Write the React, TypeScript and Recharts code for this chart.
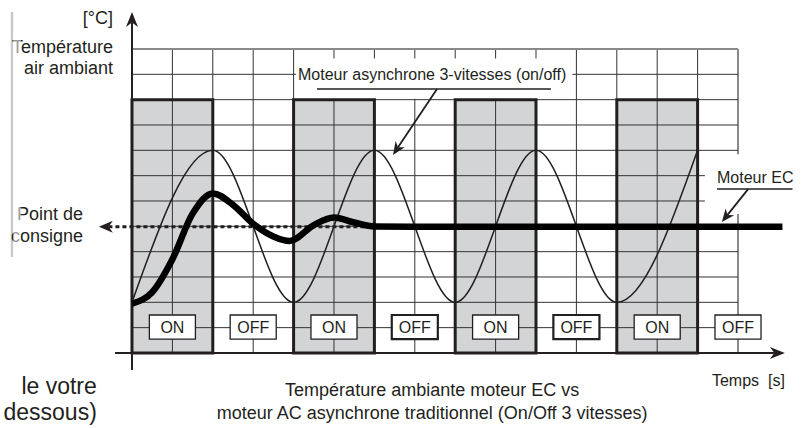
import {
  ComposedChart,
  Line,
  ReferenceArea,
  ReferenceDot,
  ReferenceLine,
  XAxis,
  YAxis,
} from "recharts";

// The grid is 15 time columns x 12 temperature rows.
// Domains run past the grid so the axis labels and captions fit on the same scales.
const X_DOMAIN = [-3.267, 16.584];
const Y_DOMAIN = [-2.961, 13.934];

const gridCols = [0, 1, 2, 3, 4, 5, 6, 7, 8, 9, 10, 11, 12, 13, 14, 15];
const gridRows = [0, 1, 2, 3, 4, 5, 6, 7, 8, 9, 10, 11, 12];

// periods where the 3-speed motor is on
const onStart = [0, 4, 8, 12];
const onEnd = [2, 6, 10, 14];
const onTop = 10;

const switchCenters = [1, 3, 5, 7, 9, 11, 13, 15];
const switchLabels = ["ON", "OFF", "ON", "OFF", "ON", "OFF", "ON", "OFF"];
const switchBold = [false, false, false, true, false, true, false, false];

// on/off motor: swings between the peaks and troughs
const onOffTime = [0, 2, 4, 6, 8, 10, 12, 14];
const onOffTemp = [2, 8, 2, 8, 2, 8, 2, 8];

// EC motor: one overshoot, then holds the setpoint
const ecTime = [0, 0.5, 1, 1.5, 2, 2.5, 3, 3.5, 3.9, 4.5, 5, 5.5, 6, 7, 16.1];
const ecTemp = [1.95, 2.4, 3.7, 5.5, 6.3, 5.85, 5.1, 4.6, 4.42, 5.05, 5.35, 5.15, 4.99, 4.98, 4.98];

const setpoint = 4.98;

const INK = "#231f20";
const FONT = '"Liberation Sans", Arial, Helvetica, sans-serif';

const onOffData = onOffTime.map((x, i) => ({ x, y: onOffTemp[i] }));
const ecData = ecTime.map((x, i) => ({ x, y: ecTemp[i] }));

const arrowShape =
  (width: number, head: number, half: number, dash?: string) => (p: any) => {
    const { x1, y1, x2, y2 } = p;
    const a = Math.atan2(y2 - y1, x2 - x1);
    const c = Math.cos(a);
    const s = Math.sin(a);
    const bx = x2 - c * head;
    const by = y2 - s * head;
    const nx = x2 - c * head * 0.7;
    const ny = y2 - s * head * 0.7;
    return (
      <g>
        <line x1={x1} y1={y1} x2={nx} y2={ny} stroke={INK} strokeWidth={width} strokeDasharray={dash} />
        <polygon
          points={`${x2},${y2} ${bx - s * half},${by + c * half} ${nx},${ny} ${bx + s * half},${by - c * half}`}
          fill={INK}
        />
      </g>
    );
  };

const textAt = (
  key: string,
  x: number,
  y: number,
  text: string,
  anchor: "start" | "middle" | "end",
  size: number
) => (
  <ReferenceDot
    key={key}
    x={x}
    y={y}
    r={0}
    ifOverflow="visible"
    zIndex={60}
    shape={(p: any) => (
      <text
        x={p.cx}
        y={p.cy}
        textAnchor={anchor}
        dominantBaseline="central"
        fontSize={size}
        fontFamily={FONT}
        fill={INK}
      >
        {text}
      </text>
    )}
  />
);

export default function App() {
  return (
    <div style={{ position: "absolute", left: 0, top: 0, width: 802, height: 428, background: "#fff", overflow: "hidden" }}>
      <ComposedChart width={802} height={428} margin={{ top: 0, right: 0, bottom: 0, left: 0 }}>
        <XAxis type="number" dataKey="x" domain={X_DOMAIN} allowDataOverflow hide />
        <YAxis type="number" dataKey="y" domain={Y_DOMAIN} allowDataOverflow hide />

        {onStart.map((x, i) => (
          <ReferenceArea
            key={`fill-${i}`}
            x1={x}
            x2={onEnd[i]}
            y1={0}
            y2={onTop}
            fill="#d3d4d6"
            fillOpacity={1}
            stroke="none"
            zIndex={1}
          />
        ))}

        {gridCols.map((c) => (
          <ReferenceLine
            key={`gc-${c}`}
            segment={[
              { x: c, y: 0 },
              { x: c, y: 12 },
            ]}
            stroke={c === 15 ? "#8a8a8a" : "#333"}
            strokeWidth={c === 15 ? 2 : 1}
            ifOverflow="visible"
            zIndex={2}
          />
        ))}
        {gridRows.map((r) => (
          <ReferenceLine
            key={`gr-${r}`}
            segment={[
              { x: 0, y: r },
              { x: 15, y: r },
            ]}
            stroke={r === 12 ? "#8a8a8a" : "#333"}
            strokeWidth={r === 12 ? 2 : 1}
            ifOverflow="visible"
            zIndex={2}
          />
        ))}

        <ReferenceArea x1={4.06} x2={10.9} y1={10.04} y2={11.62} fill="#fff" fillOpacity={1} stroke="none" zIndex={3} />
        <ReferenceArea x1={14.18} x2={16.58} y1={5.49} y2={7.85} fill="#fff" fillOpacity={1} stroke="none" zIndex={3} />

        {onStart.map((x, i) => (
          <ReferenceArea
            key={`edge-${i}`}
            x1={x}
            x2={onEnd[i]}
            y1={0}
            y2={onTop}
            fill="none"
            stroke={INK}
            strokeWidth={3}
            zIndex={4}
          />
        ))}

        {/* axes */}
        <ReferenceLine
          segment={[
            { x: 0, y: -0.67 },
            { x: 0, y: 13.46 },
          ]}
          ifOverflow="visible"
          zIndex={5}
          shape={arrowShape(2, 15, 6)}
        />
        <ReferenceLine
          segment={[
            { x: -0.42, y: 0 },
            { x: 16.16, y: 0 },
          ]}
          ifOverflow="visible"
          zIndex={5}
          shape={arrowShape(2, 15, 6)}
        />

        <Line
          data={onOffData}
          dataKey="y"
          type="monotone"
          stroke={INK}
          strokeWidth={1.5}
          dot={false}
          activeDot={false}
          isAnimationActive={false}
          zIndex={6}
        />

        <ReferenceLine
          segment={[
            { x: 6.1, y: setpoint },
            { x: -0.82, y: setpoint },
          ]}
          ifOverflow="visible"
          zIndex={7}
          shape={arrowShape(3, 14, 6, "4 3")}
        />

        <Line
          data={ecData}
          dataKey="y"
          type="monotone"
          stroke="#000"
          strokeWidth={6.5}
          dot={false}
          activeDot={false}
          isAnimationActive={false}
          zIndex={8}
        />

        {switchCenters.map((c, i) => (
          <ReferenceArea
            key={`sw-${i}`}
            x1={c - 0.57}
            x2={c + 0.57}
            y1={0.55}
            y2={1.5}
            fill="#fff"
            fillOpacity={1}
            stroke={INK}
            strokeWidth={switchBold[i] ? 2.2 : 1.3}
            ifOverflow="visible"
            zIndex={9}
            label={{ value: switchLabels[i], position: "center", fill: INK, fontSize: 16, fontFamily: FONT }}
          />
        ))}

        {/* callouts */}
        <ReferenceLine
          segment={[
            { x: 4.58, y: 10.42 },
            { x: 10.37, y: 10.42 },
          ]}
          stroke={INK}
          strokeWidth={1.5}
          ifOverflow="visible"
          zIndex={10}
        />
        <ReferenceLine
          segment={[
            { x: 7.55, y: 10.42 },
            { x: 6.46, y: 7.82 },
          ]}
          ifOverflow="visible"
          zIndex={10}
          shape={arrowShape(1.8, 13, 5.5)}
        />
        <ReferenceLine
          segment={[
            { x: 14.48, y: 6.47 },
            { x: 16.35, y: 6.47 },
          ]}
          stroke={INK}
          strokeWidth={1.5}
          ifOverflow="visible"
          zIndex={10}
        />
        <ReferenceLine
          segment={[
            { x: 15.25, y: 6.47 },
            { x: 14.6, y: 5.17 },
          ]}
          ifOverflow="visible"
          zIndex={10}
          shape={arrowShape(1.8, 13, 5.5)}
        />

        {/* scan edge on the left */}
        <ReferenceLine
          segment={[
            { x: -2.97, y: 13.46 },
            { x: -2.97, y: 3.79 },
          ]}
          stroke="#c9c9c9"
          strokeWidth={2.5}
          ifOverflow="visible"
          zIndex={10}
        />

        {textAt("unit", -0.47, 13.22, "[°C]", "end", 18)}
        {textAt("t1", -0.47, 12.08, "Température", "end", 18)}
        {textAt("t2", -0.47, 11.25, "air ambiant", "end", 18)}
        {textAt("p1", -1.21, 5.49, "Point de", "end", 18)}
        {textAt("p2", -1.21, 4.62, "consigne", "end", 18)}
        {textAt("async", 7.43, 11.01, "Moteur asynchrone 3-vitesses (on/off)", "middle", 16)}
        {textAt("ec", 14.48, 6.91, "Moteur EC", "start", 16)}
        {textAt("time", 16.16, -1.07, "Temps\u00a0\u00a0[s]", "end", 16)}
        {textAt("cap1", 7.43, -1.46, "Température ambiante moteur EC vs", "middle", 18)}
        {textAt("cap2", 7.43, -2.37, "moteur AC asynchrone traditionnel (On/Off 3 vitesses)", "middle", 18)}
        {textAt("side1", -0.87, -1.3, "le votre", "end", 23)}
        {textAt("side2", -0.87, -2.33, "dessous)", "end", 23)}

        {/* faded first letters near the scan edge */}
        <ReferenceArea
          x1={-2.94}
          x2={-2.75}
          y1={3.9}
          y2={12.7}
          fill="#fff"
          fillOpacity={0.55}
          stroke="none"
          ifOverflow="visible"
          zIndex={70}
        />
      </ComposedChart>
    </div>
  );
}
